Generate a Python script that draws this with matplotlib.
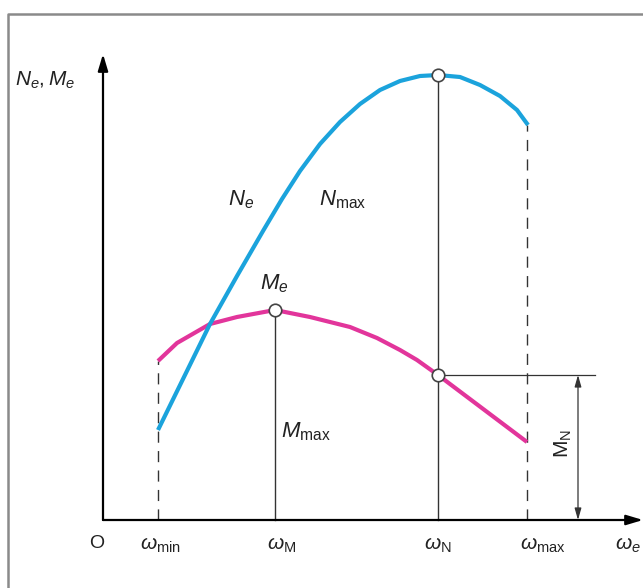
import matplotlib
matplotlib.use("Agg")
import matplotlib.pyplot as plt
from matplotlib.lines import Line2D

plt.rcParams['mathtext.fontset'] = 'custom'
plt.rcParams['mathtext.rm'] = 'Liberation Sans'
plt.rcParams['mathtext.it'] = 'Liberation Sans:italic'
plt.rcParams['font.family'] = ['Liberation Sans', 'DejaVu Sans']

# characteristic speeds (arbitrary units)
w_min, w_M, w_N, w_max = 55, 172, 335, 424

# power curve N_e
omega_N = [55, 81, 107, 134, 160, 179, 197, 217, 237, 257, 277, 297, 317, 335,
           357, 377, 397, 414, 425]
N_e = [90, 143, 196, 244, 289, 321, 349, 376, 398, 416, 430, 439, 444, 445,
       443, 435, 424, 410, 395]

# torque curve M_e
omega_M = [55, 74, 107, 134, 172, 207, 247, 274, 297, 314, 335, 424]
M_e = [159, 177, 196, 203, 210, 203, 193, 182, 170, 160, 145, 78]

N_max = 445
M_max = 210
M_Nval = 145

tick_labels = [r'$\omega_{\mathrm{min}}$', r'$\omega_{\mathrm{M}}$',
               r'$\omega_{\mathrm{N}}$', r'$\omega_{\mathrm{max}}$']

BLUE = '#1ba3dc'
MAG = '#e2359b'
DARK = '#333333'

fig = plt.figure(figsize=(6.43, 5.88), dpi=100)
ax = fig.add_axes([0, 0, 1, 1])
ax.set_xlim(-103, 540)
ax.set_ylim(-68, 520)
ax.axis('off')

# frame
ax.add_line(Line2D([0.012, 0.012, 1.0], [0.0, 0.976, 0.976], transform=ax.transAxes,
                   color='#8a8a8a', lw=1.8))

# axes arrows
ax.annotate('', xy=(0, 466), xytext=(0, 0),
            arrowprops=dict(arrowstyle='-|>,head_length=1.0,head_width=0.3',
                            color='black', lw=1.6, shrinkA=0, shrinkB=0))
ax.annotate('', xy=(540, 0), xytext=(0, 0),
            arrowprops=dict(arrowstyle='-|>,head_length=1.0,head_width=0.3',
                            color='black', lw=1.6, shrinkA=0, shrinkB=0))

# guide lines
ax.plot([w_min, w_min], [0, M_e[0]], color=DARK, lw=1.0, ls=(0, (8, 6)))
ax.plot([w_M, w_M], [0, M_max], color=DARK, lw=1.0)
ax.plot([w_N, w_N], [0, N_max], color=DARK, lw=1.0)
ax.plot([w_max, w_max], [0, N_e[-1]], color=DARK, lw=1.0, ls=(0, (8, 6)))
ax.plot([w_N, 492], [M_Nval, M_Nval], color=DARK, lw=0.9)
ax.annotate('', xy=(475, 0), xytext=(475, M_Nval),
            arrowprops=dict(arrowstyle='<|-|>,head_length=0.7,head_width=0.2',
                            color=DARK, lw=0.9, shrinkA=0, shrinkB=0))

# curves
ax.plot(omega_N, N_e, color=BLUE, lw=3.0, solid_capstyle='butt',
        solid_joinstyle='round', zorder=3)
ax.plot(omega_M, M_e, color=MAG, lw=3.0, solid_capstyle='butt',
        solid_joinstyle='round', zorder=2)

# marker points
ax.plot([w_M, w_N, w_N], [M_max, N_max, M_Nval], 'o', ms=9, mfc='white',
        mec='#444444', mew=1.2, zorder=5)

# labels
tc = '#222222'
ax.text(-88, 440, r'$N_e, M_e$', fontsize=15, color=tc, va='center', ha='left')
ax.text(125, 320, r'$N_e$', fontsize=16, color=tc, va='center')
ax.text(216, 320, r'$N_{\mathrm{max}}$', fontsize=16, color=tc, va='center')
ax.text(157, 236, r'$M_e$', fontsize=16, color=tc, va='center')
ax.text(178, 88, r'$M_{\mathrm{max}}$', fontsize=16, color=tc, va='center')
ax.text(460, 76, r'$\mathrm{M_N}$', fontsize=15, color=tc, rotation=90,
        va='center', ha='center')

ax.text(-6, -24, 'O', fontsize=14, color=tc, ha='center', va='center')
for w, lab, dx in zip([w_min, w_M, w_N, w_max], tick_labels, [2, 7, 0, 16]):
    ax.text(w + dx, -25, lab, fontsize=15, color=tc, ha='center', va='center')
ax.text(512, -25, r'$\omega_e$', fontsize=15, color=tc, ha='left', va='center')

fig.savefig('out.png', dpi=100)
